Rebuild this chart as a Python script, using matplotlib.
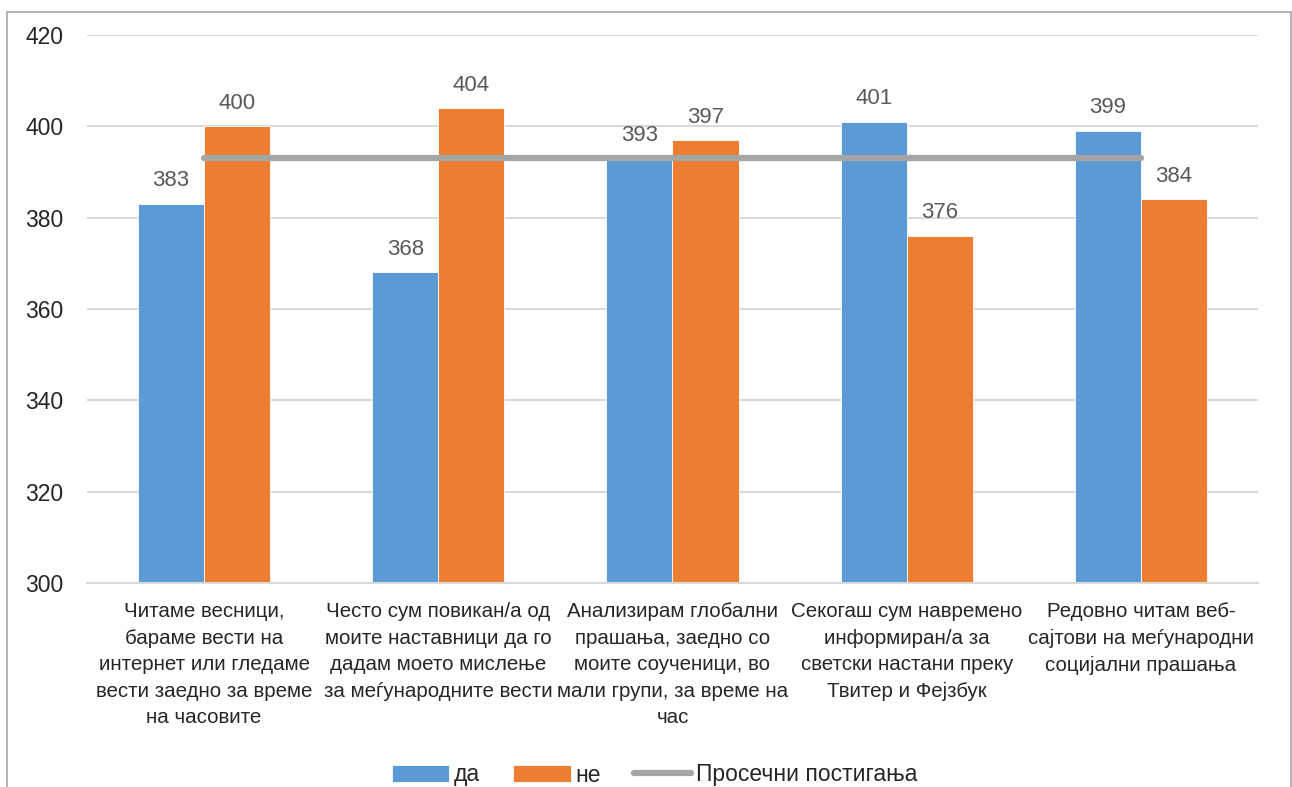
import numpy as np
import matplotlib
matplotlib.use('Agg')
import matplotlib.pyplot as plt
from matplotlib.patches import Rectangle

plt.rcParams['font.family'] = ['Liberation Sans', 'DejaVu Sans']

# Податоци
kategorii = [
    'Читаме весници,\nбараме вести на\nинтернет или гледаме\nвести заедно за време\nна часовите',
    'Често сум повикан/а од\nмоите наставници да го\nдадам моето мислење\nза меѓународните вести',
    'Анализирам глобални\nпрашања, заедно со\nмоите соученици, во\nмали групи, за време на\nчас',
    'Секогаш сум навремено\nинформиран/а за\nсветски настани преку\nТвитер и Фејзбук',
    'Редовно читам веб-\nсајтови на меѓународни\nсоцијални прашања',
]
da = [383, 368, 393, 401, 399]
ne = [400, 404, 397, 376, 384]
prosek = [393, 393, 393, 393, 393]

plava = '#5b9bd5'
portokalova = '#ed7d31'
siva = '#a5a5a5'

fig = plt.figure(figsize=(12.92, 7.87), dpi=100)
ax = fig.add_axes([0.0673, 0.2592, 0.9064, 0.6963])

x = np.arange(len(kategorii))
w = 0.282
b1 = ax.bar(x - w / 2, da, w, color=plava, edgecolor='white', linewidth=0.6, label='да', zorder=2)
b2 = ax.bar(x + w / 2, ne, w, color=portokalova, edgecolor='white', linewidth=0.6, label='не', zorder=2)
ln, = ax.plot(x, prosek, color=siva, linewidth=4.5, solid_capstyle='round', label='Просечни постигања', zorder=3)

# вредности над столбовите
for bars in (b1, b2):
    for r in bars:
        ax.annotate(f'{r.get_height():.0f}', (r.get_x() + r.get_width() / 2, r.get_height()),
                    xytext=(0, 9), textcoords='offset points', ha='center', va='bottom',
                    fontsize=16, color='#595959', zorder=4)

ax.set_ylim(300, 420)
ax.set_xlim(-0.5, len(kategorii) - 0.5)
ax.set_yticks(range(300, 421, 20))
ax.yaxis.grid(True, color='#d9d9d9', linewidth=1.5, zorder=0)
ax.set_axisbelow(True)
for s in ('top', 'right', 'left'):
    ax.spines[s].set_visible(False)
ax.spines['bottom'].set_color('#d9d9d9')
ax.spines['bottom'].set_linewidth(1.5)
ax.tick_params(axis='both', length=0, colors='#262626')
ax.tick_params(axis='y', pad=17, labelsize=16.5)
ax.set_xticks(x)
ax.set_xticklabels(kategorii, fontsize=14.8, color='#262626', linespacing=1.5)
ax.tick_params(axis='x', pad=14)

fig.legend(handles=[b1, b2, ln], loc='center', bbox_to_anchor=(0.5066, 1 - 775 / 787), ncol=3,
           frameon=False, fontsize=16.5, handlelength=2.5, handletextpad=0.2,
           columnspacing=1.45, borderpad=0, labelcolor='#262626')

# рамка околу графиконот
fig.patches.append(Rectangle((7 / 1292, -0.05), 1284 / 1292, 1.05 - 12 / 787,
                             transform=fig.transFigure, fill=False, edgecolor='#a6a6a6',
                             linewidth=1.2, zorder=0))

fig.savefig('out.png', dpi=100)
